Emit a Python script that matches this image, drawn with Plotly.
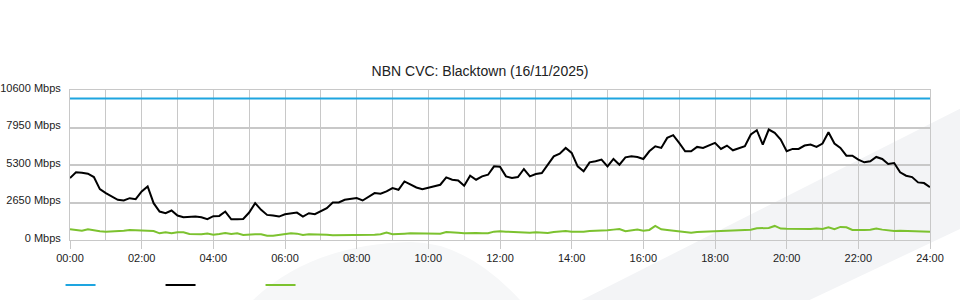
import plotly.graph_objects as go

# ---- data (Mbps), sampled every 10 minutes from 00:00 to 24:00 ----
step_minutes = 10
used_mbps = [
    # 00:00 - 03:50
    4380, 4780, 4756, 4685, 4448, 3596, 3312, 3076, 2839, 2792, 2957, 2886,
    3430, 3786, 2602, 2011, 1893, 2082, 1727, 1609, 1656, 1656, 1609, 1467,
    # 04:00 - 07:50
    1680, 1703, 2011, 1467, 1467, 1490, 1940, 2602, 2129, 1774, 1727, 1656,
    1822, 1893, 1940, 1656, 1893, 1822, 2011, 2248, 2650, 2650, 2839, 2886,
    # 08:00 - 11:50
    2960, 2792, 3028, 3312, 3265, 3430, 3667, 3549, 4140, 3904, 3714, 3596,
    3714, 3786, 3904, 4424, 4259, 4211, 3833, 4543, 4259, 4495, 4614, 5205,
    # 12:00 - 15:50
    5180, 4495, 4377, 4448, 5016, 4495, 4661, 4732, 5323, 5915, 6104, 6506,
    6151, 5205, 4850, 5489, 5560, 5678, 5205, 5726, 5323, 5844, 5915, 5868,
    # 16:00 - 19:50
    5726, 6270, 6625, 6506, 7216, 7406, 6861, 6270, 6270, 6577, 6506, 6672,
    6861, 6435, 6672, 6341, 6506, 6625, 7453, 7760, 6743, 7807, 7571, 7098,
    # 20:00 - 23:50
    6270, 6435, 6435, 6672, 6743, 6577, 6814, 7618, 6814, 6506, 5962, 5962,
    5678, 5489, 5560, 5868, 5726, 5370, 5442, 4779, 4543, 4448, 4070, 4022,
    # 24:00
    3738,
]
other_mbps = [
    757, 710, 662, 757, 662, 615, 591, 615, 591, 662, 710, 710,
    710, 662, 639, 473, 544, 473, 544, 544, 426, 402, 402, 450,
    380, 426, 497, 426, 473, 355, 402, 402, 402, 307, 307, 355,
    379, 473, 450, 355, 402, 402, 402, 379, 331, 331, 331, 331,
    340, 355, 379, 379, 402, 520, 402, 402, 450, 473, 473, 473,
    473, 426, 450, 568, 568, 520, 473, 497, 497, 473, 473, 591,
    620, 591, 568, 568, 568, 520, 544, 544, 497, 568, 591, 639,
    591, 568, 591, 639, 639, 662, 686, 733, 781, 615, 686, 733,
    660, 710, 994, 757, 710, 662, 639, 615, 520, 568, 591, 615,
    591, 639, 686, 710, 710, 710, 733, 828, 852, 852, 994, 805,
    790, 781, 757, 757, 781, 805, 781, 899, 757, 923, 899, 710,
    686, 710, 733, 805, 733, 686, 639, 662, 639, 615, 639, 615,
    591,
]
capacity_hours = [0, 24]
capacity_mbps = [10000, 10000]

hours = [i * step_minutes / 60 for i in range(len(used_mbps))]

x_tick_vals = list(range(0, 25, 2))
x_tick_text = ["00:00", "02:00", "04:00", "06:00", "08:00", "10:00", "12:00",
               "14:00", "16:00", "18:00", "20:00", "22:00", "24:00"]
y_tick_vals = [0, 2650, 5300, 7950, 10600]
y_tick_text = ["0 Mbps", "2650 Mbps", "5300 Mbps", "7950 Mbps", "10600 Mbps"]

title_text = "NBN CVC: Blacktown (16/11/2025)"

BLUE = "#1ea5e0"
BLACK = "#000000"
GREEN = "#7cc22f"
GRID = "#c8c8c8"
FONT = "Liberation Sans, Arial, sans-serif"

fig = go.Figure()
fig.add_trace(go.Scatter(x=capacity_hours, y=capacity_mbps, mode="lines", name="",
                         line=dict(color=BLUE, width=2)))
fig.add_trace(go.Scatter(x=hours, y=used_mbps, mode="lines", name="",
                         line=dict(color=BLACK, width=2)))
fig.add_trace(go.Scatter(x=hours, y=other_mbps, mode="lines", name="",
                         line=dict(color=GREEN, width=2)))

# decorative background swooshes
fig.add_shape(type="path", xref="paper", yref="paper", layer="below",
              path="M 0.2128,-0.4 Q 0.28,-0.03 0.3953,-0.0133 Q 0.46,-0.01 0.5233,-0.4 Z",
              fillcolor="#f6f7f8", line=dict(width=0))
fig.add_shape(type="path", xref="paper", yref="paper", layer="below",
              path="M 0.595,-0.4 L 1.04,0.89 L 1.04,0.087 L 0.86,-0.4 Z",
              fillcolor="#f3f4f6", line=dict(width=0))

fig.update_layout(
    width=960, height=300,
    margin=dict(l=70, r=30, t=90, b=60, autoexpand=False),
    paper_bgcolor="white", plot_bgcolor="rgba(0,0,0,0)",
    font=dict(family=FONT, size=11, color="#222"),
    title=dict(text=title_text, x=0.5, xanchor="center", y=1 - 71 / 300, yanchor="middle",
               font=dict(family=FONT, size=14, color="#222")),
    showlegend=True,
    legend=dict(orientation="h", x=-0.011, xanchor="left", y=-0.30, yanchor="middle",
                entrywidth=55, entrywidthmode="pixels", font=dict(size=11),
                bgcolor="rgba(0,0,0,0)"),
    xaxis=dict(range=[0, 24], tickvals=x_tick_vals, ticktext=x_tick_text,
               showgrid=True, gridcolor=GRID, gridwidth=1,
               minor=dict(dtick=1, showgrid=True, gridcolor=GRID, gridwidth=1),
               ticks="outside", ticklen=8, tickcolor=GRID, tickwidth=1,
               showline=True, linecolor=GRID, linewidth=1, mirror=True,
               zeroline=False, fixedrange=True, automargin=False),
    yaxis=dict(range=[0, 10600], tickvals=y_tick_vals, ticktext=y_tick_text,
               showgrid=True, gridcolor=GRID, gridwidth=2,
               ticks="", ticklabelstandoff=6, ticklabelshift=-2,
               showline=True, linecolor=GRID, linewidth=1, mirror=True,
               zeroline=False, fixedrange=True, automargin=False),
)

fig.write_html("out.html")
